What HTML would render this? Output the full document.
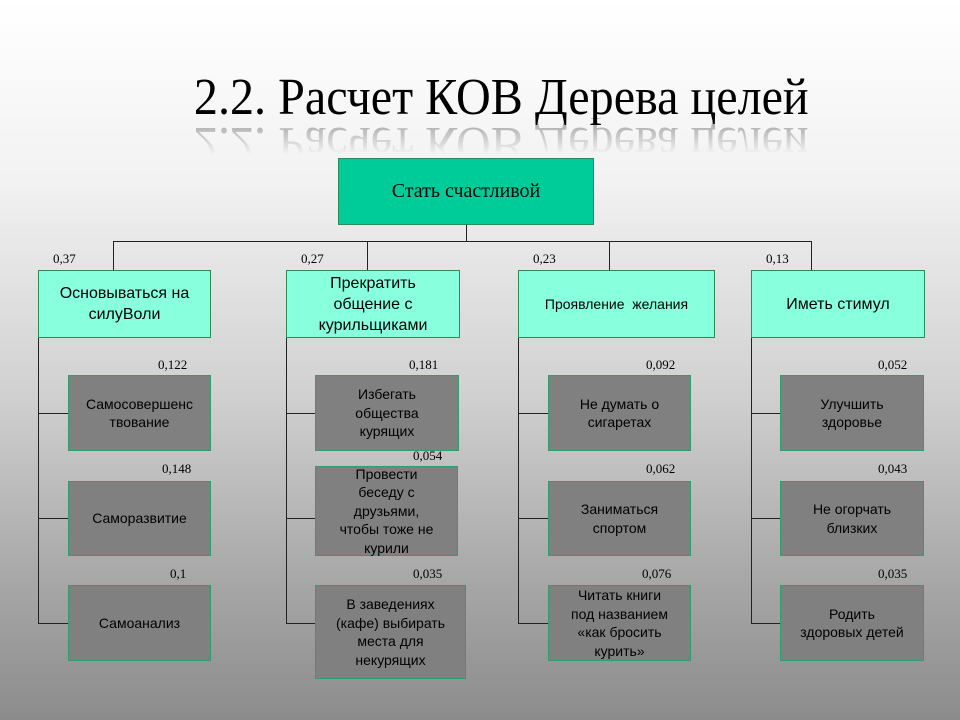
<!DOCTYPE html>
<html><head><meta charset="utf-8"><style>
*{margin:0;padding:0;box-sizing:border-box}
body{width:960px;height:720px;position:relative;overflow:hidden;background:linear-gradient(#ffffff 0%,#f2f2f2 25%,#d0d0d0 55%,#a8a8a8 80%,#8c8c8c 100%);font-family:"Liberation Sans",sans-serif}
.t{position:absolute;left:0;width:1002px;text-align:center;font-family:"Liberation Serif",serif;font-size:52px;line-height:52px;height:52px;color:#000}
.t span{display:inline-block;transform:scaleX(0.925)}
.r{top:118px;transform:scaleY(-1);opacity:.35;-webkit-mask-image:linear-gradient(to top,#000 0%,transparent 70%);mask-image:linear-gradient(to top,#000 0%,transparent 70%)}
.b{position:absolute;display:flex;align-items:center;justify-content:center;text-align:center;color:#000;line-height:19px}
.root{background:#00cc99;border:1px solid #2e8b57;font-family:"Liberation Serif",serif;font-size:20px}
.l1{background:#88ffdd;border:1px solid #2e8b57;font-size:16px;line-height:21px}
.l2{background:#808080;border:1.5px solid #2e9e70;font-size:14px;line-height:18.5px}
.h{position:absolute;background:#222;height:1px}
.v{position:absolute;background:#222;width:1px}
.w{position:absolute;font-family:"Liberation Serif",serif;font-size:13px;color:#000}
</style></head><body>
<div class="t" style="top:72px"><span>2.2. Расчет КОВ Дерева целей</span></div>
<div class="t r"><span>2.2. Расчет КОВ Дерева целей</span></div>

<div class="b root" style="left:338px;top:158px;width:256px;height:67px">Стать счастливой</div>
<div class="v" style="left:466px;top:225px;height:16px"></div>
<div class="h" style="left:113px;top:241px;width:699px"></div>
<div class="v" style="left:113px;top:241px;height:29px"></div>
<div class="v" style="left:367px;top:241px;height:29px"></div>
<div class="v" style="left:609px;top:241px;height:29px"></div>
<div class="v" style="left:811px;top:241px;height:29px"></div>
<div class="w" style="left:53px;top:251px">0,37</div>
<div class="w" style="left:301px;top:251px">0,27</div>
<div class="w" style="left:533px;top:251px">0,23</div>
<div class="w" style="left:766px;top:251px">0,13</div>

<div class="b l1" style="left:38px;top:270px;width:173px;height:68px">Основываться на силуВоли</div>
<div class="b l1" style="left:286px;top:270px;width:174px;height:68px">Прекратить<br>общение с<br>курильщиками</div>
<div class="b l1" style="left:518px;top:270px;width:197px;height:68px;font-size:14px">Проявление&nbsp; желания</div>
<div class="b l1" style="left:751px;top:270px;width:174px;height:68px">Иметь стимул</div>

<div class="v" style="left:38px;top:338px;height:286px"></div>
<div class="h" style="left:38px;top:413px;width:30px"></div>
<div class="h" style="left:38px;top:518px;width:30px"></div>
<div class="h" style="left:38px;top:623px;width:30px"></div>
<div class="v" style="left:286px;top:338px;height:286px"></div>
<div class="h" style="left:286px;top:413px;width:30px"></div>
<div class="h" style="left:286px;top:518px;width:30px"></div>
<div class="h" style="left:286px;top:623px;width:30px"></div>
<div class="v" style="left:518px;top:338px;height:286px"></div>
<div class="h" style="left:518px;top:413px;width:30px"></div>
<div class="h" style="left:518px;top:518px;width:30px"></div>
<div class="h" style="left:518px;top:623px;width:30px"></div>
<div class="v" style="left:751px;top:338px;height:286px"></div>
<div class="h" style="left:751px;top:413px;width:30px"></div>
<div class="h" style="left:751px;top:518px;width:30px"></div>
<div class="h" style="left:751px;top:623px;width:30px"></div>

<div class="w" style="left:158px;top:357px">0,122</div>
<div class="b l2" style="left:68px;top:375px;width:143px;height:76px">Самосовершенс<br>твование</div>
<div class="w" style="left:162px;top:461px">0,148</div>
<div class="b l2" style="left:68px;top:481px;width:143px;height:75px">Саморазвитие</div>
<div class="w" style="left:170px;top:566px">0,1</div>
<div class="b l2" style="left:68px;top:585px;width:143px;height:76px">Самоанализ</div>

<div class="w" style="left:409px;top:357px">0,181</div>
<div class="b l2" style="left:315px;top:375px;width:144px;height:76px">Избегать<br>общества<br>курящих</div>
<div class="w" style="left:413px;top:448px">0,054</div>
<div class="b l2" style="left:315px;top:466px;width:143px;height:90px">Провести<br>беседу с<br>друзьями,<br>чтобы тоже не<br>курили</div>
<div class="w" style="left:413px;top:566px">0,035</div>
<div class="b l2" style="left:315px;top:585px;width:151px;height:94px">В заведениях<br>(кафе) выбирать<br>места для<br>некурящих</div>

<div class="w" style="left:646px;top:357px">0,092</div>
<div class="b l2" style="left:548px;top:375px;width:143px;height:76px">Не думать о<br>сигаретах</div>
<div class="w" style="left:646px;top:461px">0,062</div>
<div class="b l2" style="left:548px;top:481px;width:143px;height:75px">Заниматься<br>спортом</div>
<div class="w" style="left:642px;top:566px">0,076</div>
<div class="b l2" style="left:548px;top:585px;width:143px;height:76px">Читать книги<br>под названием<br>«как бросить<br>курить»</div>

<div class="w" style="left:878px;top:357px">0,052</div>
<div class="b l2" style="left:780px;top:375px;width:144px;height:76px">Улучшить<br>здоровье</div>
<div class="w" style="left:878px;top:461px">0,043</div>
<div class="b l2" style="left:780px;top:481px;width:144px;height:75px">Не огорчать<br>близких</div>
<div class="w" style="left:878px;top:566px">0,035</div>
<div class="b l2" style="left:780px;top:585px;width:144px;height:76px">Родить<br>здоровых детей</div>
</body></html>
